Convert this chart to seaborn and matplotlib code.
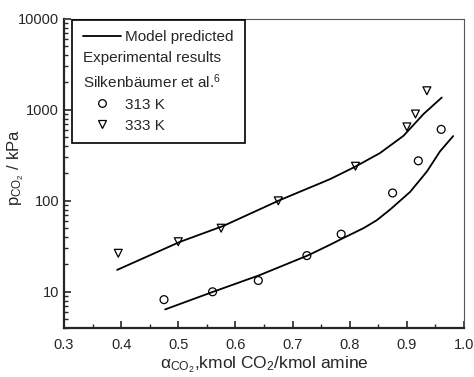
import numpy as np
import pandas as pd
import matplotlib
matplotlib.use("Agg")
import matplotlib.pyplot as plt
from matplotlib.lines import Line2D
from matplotlib.ticker import MultipleLocator, FixedLocator, FixedFormatter, LogLocator, NullFormatter
import seaborn as sns

# experimental points (Silkenbaumer et al.)
loading_313 = [0.475, 0.56, 0.64, 0.725, 0.785, 0.875, 0.92, 0.96]
p_313 = [8.2, 10.0, 13.3, 25.0, 43.0, 122.0, 275.0, 610.0]
loading_333 = [0.395, 0.50, 0.575, 0.675, 0.81, 0.90, 0.915, 0.935]
p_333 = [26.5, 35.5, 50.0, 100.0, 240.0, 650.0, 900.0, 1620.0]

# model predicted curves
model_x_313 = [0.477, 0.561, 0.643, 0.728, 0.766, 0.787, 0.824, 0.847, 0.8705, 0.9055, 0.935, 0.958, 0.981]
model_p_313 = [6.4, 10.0, 15.3, 25.3, 33.0, 38.5, 50.0, 61.0, 80.0, 125.0, 210.0, 350.0, 515.0]
model_x_333 = [0.393, 0.503, 0.579, 0.678, 0.7655, 0.809, 0.853, 0.894, 0.929, 0.961]
model_p_333 = [17.4, 35.4, 53.0, 102.0, 173.0, 236.0, 335.0, 518.0, 898.0, 1365.0]

x_ticks = [0.3, 0.4, 0.5, 0.6, 0.7, 0.8, 0.9, 1.0]
y_ticks = [10, 100, 1000, 10000]

sns.set_style("ticks")
plt.rcParams['font.family'] = ['Liberation Sans', 'DejaVu Sans']
plt.rcParams['mathtext.default'] = 'regular'
plt.rcParams['xtick.direction'] = 'in'
plt.rcParams['ytick.direction'] = 'in'

model = pd.concat([
    pd.DataFrame({'x': model_x_313, 'p': model_p_313, 'T': '313 K'}),
    pd.DataFrame({'x': model_x_333, 'p': model_p_333, 'T': '333 K'}),
])
exp = pd.concat([
    pd.DataFrame({'x': loading_313, 'p': p_313, 'T': '313 K'}),
    pd.DataFrame({'x': loading_333, 'p': p_333, 'T': '333 K'}),
])

fig = plt.figure(figsize=(4.74, 3.77), dpi=100)
ax = fig.add_axes([0.135, 0.13, 0.844, 0.82])

for t, grp in model.groupby('T'):
    sns.lineplot(data=grp, x='x', y='p', color='black', lw=1.3, ax=ax, legend=False, sort=True)

sns.scatterplot(data=exp, x='x', y='p', style='T', markers={'313 K': 'o', '333 K': 'v'},
                facecolor='none', edgecolor='black', linewidth=0.9, s=32, ax=ax, legend=False)

ax.set_yscale('log')
ax.set_xlim(0.3, 1.0)
ax.set_ylim(4, 10000)
ax.xaxis.set_major_locator(FixedLocator(x_ticks))
ax.xaxis.set_major_formatter(FixedFormatter([f"{v:.1f}" for v in x_ticks]))
ax.xaxis.set_minor_locator(MultipleLocator(0.05))
ax.yaxis.set_major_locator(FixedLocator(y_ticks))
ax.yaxis.set_major_formatter(FixedFormatter([str(v) for v in y_ticks]))
ax.yaxis.set_minor_locator(LogLocator(base=10, subs=np.arange(2, 10)))
ax.yaxis.set_minor_formatter(NullFormatter())
ax.tick_params(which='major', length=5, width=1.2, labelsize=10.5)
ax.tick_params(which='minor', length=3, width=1.0)
ax.tick_params(axis='x', pad=7)

for side in ['left', 'bottom']:
    ax.spines[side].set_linewidth(1.6)
for side in ['top', 'right']:
    ax.spines[side].set_linewidth(0.8)
    ax.spines[side].set_color('#555555')

ax.set_xlabel(r'$\alpha_{CO_2}$,kmol CO$_2$/kmol amine', fontsize=12.5, labelpad=2)
ax.set_ylabel(r'p$_{CO_2}$ / kPa', fontsize=12)
ax.yaxis.set_label_coords(-0.095, 0.52)

handles = [
    Line2D([], [], color='black', lw=1.3),
    Line2D([], [], color='none'),
    Line2D([], [], color='none'),
    Line2D([], [], ls='none', marker='o', mfc='none', mec='black', ms=5.5, mew=0.9),
    Line2D([], [], ls='none', marker='v', mfc='none', mec='black', ms=6, mew=0.9),
]
labels = ['Model predicted', 'Experimental results', r'Silkenbäumer et al.$^{6}$', '313 K', '333 K']
leg = ax.legend(handles, labels, loc='upper left', bbox_to_anchor=(0.02, 0.997), borderaxespad=0,
                fontsize=11, frameon=True, fancybox=False, edgecolor='black', framealpha=1,
                handlelength=2.5, handletextpad=0.3, labelspacing=0.45, borderpad=0.7)
leg.get_frame().set_linewidth(1.2)

# text-only legend rows start flush with the handles
rows = leg._legend_handle_box.get_children()[0].get_children()
for i in (1, 2):
    rows[i].get_children()[0].width = 0
    rows[i].sep = 0

fig.savefig('out.png', dpi=100)
